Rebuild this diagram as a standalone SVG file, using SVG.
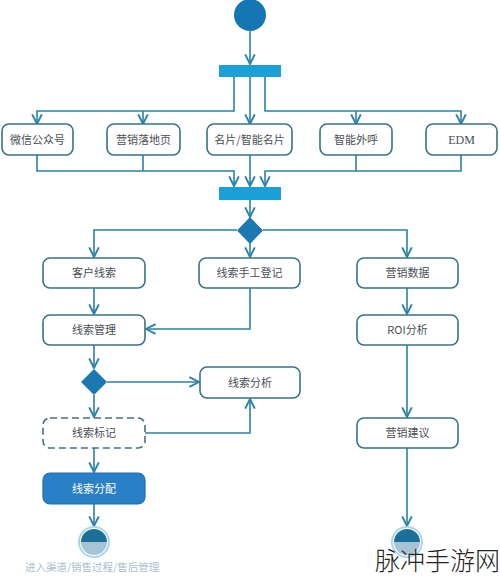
<svg xmlns="http://www.w3.org/2000/svg" width="500" height="579" viewBox="0 0 500 579">
<defs>
<marker id="arr" markerWidth="12" markerHeight="12" viewBox="0 0 10 10" refX="9" refY="5" orient="auto" markerUnits="userSpaceOnUse">
<path d="M1,1 L9,5 L1,9" fill="none" stroke="#2a82a8" stroke-width="1.6"/>
</marker>
<style>
.box{fill:#fff;stroke:#3b7283;stroke-width:1.6}
.dash{fill:#fff;stroke:#4b6f7c;stroke-width:1.6;stroke-dasharray:7 4}
.t{font-family:"Noto Sans CJK SC","Liberation Sans",sans-serif;font-size:11px;fill:#4a4f55;text-anchor:middle}
.tw{font-family:"Noto Sans CJK SC","Liberation Sans",sans-serif;font-size:11px;fill:#fff;text-anchor:middle}
.bar{fill:#1a9fd6}
.dia{fill:#1b78b0}
.c{fill:none;stroke:#2a82a8;stroke-width:1.6;marker-end:url(#arr)}
.cn{fill:none;stroke:#2a82a8;stroke-width:1.6}
</style>
</defs>
<rect width="500" height="579" fill="#fff"/>

<g id="connectors">
<path class="c" d="M250 31 V64"/>
<path class="c" d="M234 77 V111 H37 V124"/>
<path class="c" d="M143 111 V124"/>
<path class="c" d="M250 77 V124"/>
<path class="c" d="M265 77 V111 H461 V124"/>
<path class="c" d="M356 111 V124"/>
<path class="c" d="M37 155 V171 H234 V186"/>
<path class="cn" d="M143 155 V171"/>
<path class="c" d="M250 155 V186"/>
<path class="c" d="M461 155 V171 H265 V186"/>
<path class="cn" d="M356 155 V171"/>
<path class="c" d="M250 200 V217"/>
<path class="c" d="M237 230 H94 V257"/>
<path class="c" d="M250 243 V257"/>
<path class="c" d="M263 230 H407 V257"/>
<path class="c" d="M94 288 V314"/>
<path class="c" d="M250 288 V329 H146"/>
<path class="c" d="M407 288 V314"/>
<path class="c" d="M94 345 V368"/>
<path class="c" d="M107 382 H199"/>
<path class="c" d="M94 395 V417"/>
<path class="c" d="M145 433 H250 V399"/>
<path class="c" d="M94 448 V472"/>
<path class="c" d="M94 504 V526"/>
<path class="c" d="M407 345 V417"/>
<path class="c" d="M407 448 V526"/>
</g>

<g id="start"><circle cx="250" cy="15" r="16" fill="#1477b3"/></g>
<g id="fork1"><rect class="bar" x="219" y="65" width="62" height="12"/></g>
<g id="n-wechat"><rect class="box" x="2" y="124" width="71" height="31" rx="7"/><text class="t" x="37.5" y="143.5">微信公众号</text></g>
<g id="n-landing"><rect class="box" x="107" y="124" width="73" height="31" rx="7"/><text class="t" x="143.5" y="143.5">营销落地页</text></g>
<g id="n-card"><rect class="box" x="207" y="124" width="85" height="31" rx="7"/><text class="t" x="249.5" y="143.5">名片/智能名片</text></g>
<g id="n-call"><rect class="box" x="320" y="124" width="72" height="31" rx="7"/><text class="t" x="356" y="143.5">智能外呼</text></g>
<g id="n-edm"><rect class="box" x="426" y="124" width="71" height="31" rx="7"/><text class="t" x="461.5" y="143.5" style="font-family:'Liberation Serif',serif;font-size:12px">EDM</text></g>
<g id="join1"><rect class="bar" x="219" y="187" width="62" height="13"/></g>
<g id="d1"><path class="dia" d="M250 217 L263 230.5 L250 244 L237 230.5 Z"/></g>
<g id="n-lead"><rect class="box" x="43" y="258" width="102" height="30" rx="7"/><text class="t" x="94" y="277">客户线索</text></g>
<g id="n-manual"><rect class="box" x="199" y="258" width="101" height="30" rx="7"/><text class="t" x="249.5" y="277">线索手工登记</text></g>
<g id="n-mdata"><rect class="box" x="357" y="258" width="101" height="30" rx="7"/><text class="t" x="407.5" y="277">营销数据</text></g>
<g id="n-manage"><rect class="box" x="43" y="315" width="102" height="30" rx="7"/><text class="t" x="94" y="334">线索管理</text></g>
<g id="n-roi"><rect class="box" x="357" y="315" width="101" height="30" rx="7"/><text class="t" x="407.5" y="334">ROI分析</text></g>
<g id="d2"><path class="dia" d="M94 369 L107 382 L94 395 L81 382 Z"/></g>
<g id="n-analysis"><rect class="box" x="200" y="367" width="100" height="31" rx="7"/><text class="t" x="250" y="386.5">线索分析</text></g>
<g id="n-tag"><rect class="dash" x="43" y="418" width="102" height="30" rx="7"/><text class="t" x="94" y="437">线索标记</text></g>
<g id="n-suggest"><rect class="box" x="357" y="418" width="101" height="30" rx="7"/><text class="t" x="407.5" y="437">营销建议</text></g>
<g id="n-assign"><rect x="43" y="473" width="102" height="31" rx="7" fill="#2a80c6" stroke="#1f6fae" stroke-width="1.2"/><text class="tw" x="94" y="492.5">线索分配</text></g>
<g id="end1"><circle cx="94" cy="542" r="15" fill="#fff" stroke="#a9d6e8" stroke-width="2"/><path d="M81 542 A13 13 0 0 1 107 542 Z" fill="#1c6f97"/><path d="M81 542 A13 13 0 0 0 107 542 Z" fill="#a7c4d6"/></g>
<g id="end2"><circle cx="407" cy="542" r="15" fill="#fff" stroke="#a9d6e8" stroke-width="2"/><path d="M394 542 A13 13 0 0 1 420 542 Z" fill="#1c6f97"/><path d="M394 542 A13 13 0 0 0 420 542 Z" fill="#a7c4d6"/></g>
<g id="caption"><text x="25" y="571" style="font-family:'Noto Sans CJK SC','Liberation Sans',sans-serif;font-size:10.5px;fill:#a9bfcc">进入渠道/销售过程/售后管理</text></g>
<g id="watermark"><text x="375" y="570" style="font-family:'Noto Sans CJK SC','Liberation Sans',sans-serif;font-size:25px;fill:#222;font-weight:300">脉冲手游网</text></g>
</svg>
